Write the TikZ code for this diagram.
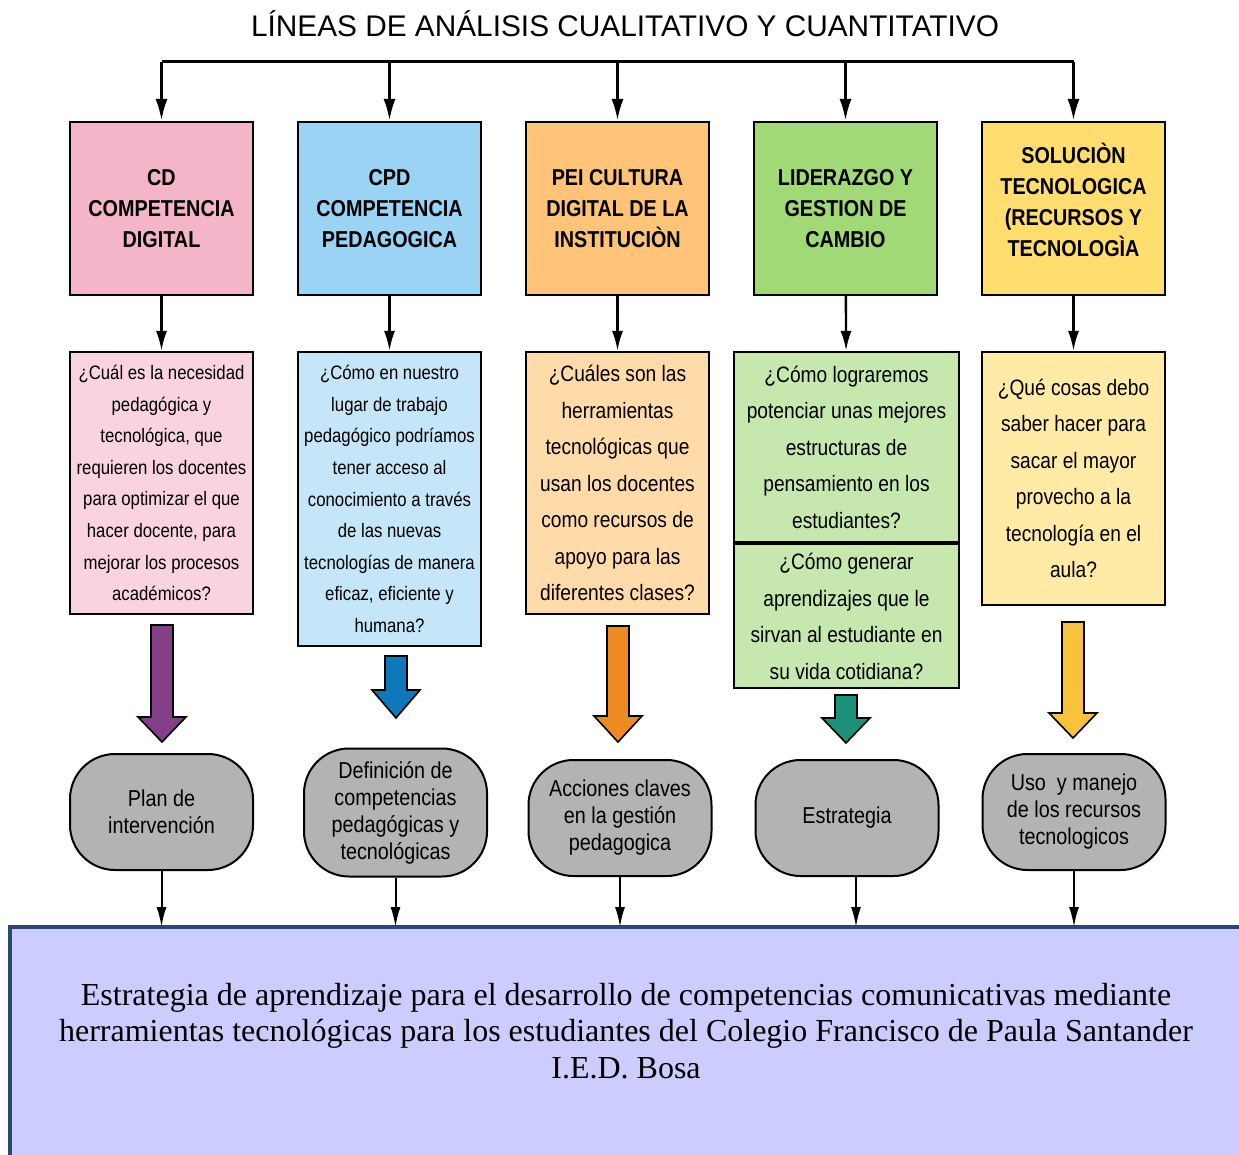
\documentclass[tikz,border=0pt]{standalone}
\usepackage{fontspec}
\setmainfont{Liberation Serif}
\setsansfont{Liberation Sans}
\newfontfamily\narrowsf{Liberation Sans}[FakeStretch=0.86]
\usepackage{xcolor}
\usetikzlibrary{arrows.meta,positioning,calc}

\definecolor{headpink}{HTML}{F4B5C8}
\definecolor{headblue}{HTML}{9AD3F3}
\definecolor{headorange}{HTML}{FFC478}
\definecolor{headgreen}{HTML}{A2D977}
\definecolor{headyellow}{HTML}{FFDE6F}
\definecolor{askpink}{HTML}{F9D3DF}
\definecolor{askblue}{HTML}{C4E6F8}
\definecolor{askorange}{HTML}{FFDBA9}
\definecolor{askgreen}{HTML}{C6E8AE}
\definecolor{askyellow}{HTML}{FFEBA6}
\definecolor{fatpurple}{HTML}{823F87}
\definecolor{fatblue}{HTML}{0F78BA}
\definecolor{fatorange}{HTML}{EE8A22}
\definecolor{fatteal}{HTML}{1B917A}
\definecolor{fatyellow}{HTML}{F8C23A}
\definecolor{resgray}{HTML}{B3B3B3}
\definecolor{goalfill}{HTML}{CCCCFF}
\definecolor{goalline}{HTML}{2C4A6E}

\tikzset{
  head/.style={draw=black, line width=2.2pt, minimum width=183pt, minimum height=173pt,
    inner sep=0pt, align=center, font=\narrowsf\bfseries\fontsize{23}{31}\selectfont},
  ask/.style={draw=black, line width=2.2pt, minimum width=183pt, inner sep=0pt,
    align=center, font=\narrowsf\fontsize{22.3}{36.5}\selectfont},
  asksmall/.style={ask, font=\narrowsf\fontsize{19.5}{31.6}\selectfont},
  res/.style={draw=black, line width=2pt, fill=resgray, rounded corners=45pt,
    minimum width=183pt, minimum height=116pt, inner sep=0pt, align=center,
    font=\narrowsf\fontsize{23}{27}\selectfont},
  fat/.style={draw=black, line width=1.6pt, line join=miter},
  bus/.style={line width=3pt},
  link/.style={line width=2.4pt, -{Latex[length=20pt,width=11pt]}},
  drop/.style={line width=2pt, -{Latex[length=20pt,width=10pt]}}
}

\begin{document}
\begin{tikzpicture}[x=1pt,y=-1pt]
\useasboundingbox (0,0) rectangle (1239,1155);
\clip (0,0) rectangle (1239,1155);

\node[font=\sffamily\fontsize{29.8}{29.8}\selectfont] (title) at (625,24)
{LÍNEAS DE ANÁLISIS CUALITATIVO Y CUANTITATIVO};
\coordinate (bus) at (618,62);

% line of headings
\node[head, fill=headpink] (head1) at (161.5,208.5) {CD\\COMPETENCIA\\DIGITAL};
\node[head, fill=headblue] (head2) at (389.5,208.5) {CPD\\COMPETENCIA\\PEDAGOGICA};
\node[head, fill=headorange] (head3) at (617.5,208.5) {PEI CULTURA\\DIGITAL DE LA\\INSTITUCIÒN};
\node[head, fill=headgreen] (head4) at (845.5,208.5) {LIDERAZGO Y\\GESTION DE\\CAMBIO};
\node[head, fill=headyellow, text depth=18pt] (head5) at (1073.5,208.5) {SOLUCIÒN\\TECNOLOGICA\\(RECURSOS Y\\TECNOLOGÌA};

\draw[bus] (head1.north |- bus) -- (head5.north |- bus);
\foreach \i in {1,...,5} {
\draw[bus,-{Latex[length=22pt,width=12pt]}] (head\i.north |- bus) -- (head\i.north);
}

% questions
\node[asksmall, fill=askpink, minimum height=262pt] (q1) at (161.5,483)
{¿Cuál es la necesidad\\pedagógica y\\tecnológica, que\\requieren los docentes\\para optimizar el que\\hacer docente, para\\mejorar los procesos\\académicos?};
\node[asksmall, fill=askblue, minimum height=294pt] (q2) at (389.5,499)
{¿Cómo en nuestro\\lugar de trabajo\\pedagógico podríamos\\tener acceso al\\conocimiento a través\\de las nuevas\\tecnologías de manera\\eficaz, eficiente y\\humana?};
\node[ask, fill=askorange, minimum height=262pt] (q3) at (617.5,483)
{¿Cuáles son las\\herramientas\\tecnológicas que\\usan los docentes\\como recursos de\\apoyo para las\\diferentes clases?};
\node[ask, fill=askgreen, minimum width=225pt, minimum height=190pt] (q4) at (846.5,447)
{¿Cómo lograremos\\potenciar unas mejores\\estructuras de\\pensamiento en los\\estudiantes?};
\node[ask, fill=askgreen, minimum width=225pt, minimum height=144pt, below=0pt of q4] (q4b)
{¿Cómo generar\\aprendizajes que le\\sirvan al estudiante en\\su vida cotidiana?};
\node[ask, fill=askyellow, minimum height=253pt] (q5) at (1073.5,478.5)
{¿Qué cosas debo\\saber hacer para\\sacar el mayor\\provecho a la\\tecnología en el\\aula?};

\foreach \i in {1,...,5} {
\draw[link] (head\i) -- (q\i);
}

% thick arrows
\foreach \x/\ya/\yb/\yc/\col in {162/625/717/742/fatpurple, 396/656/690/718/fatblue,
  618/626/716/742/fatorange, 846/695/718/743/fatteal, 1073/622/713/738/fatyellow} {
\draw[fat, fill=\col] (\x-11,\ya) -- (\x+11,\ya) -- (\x+11,\yb) -- (\x+24,\yb)
  -- (\x,\yc) -- (\x-24,\yb) -- (\x-11,\yb) -- cycle;
}

% results
\node[res] (res1) at (161.5,812) {Plan de\\intervención};
\node[res, minimum height=128pt] (res2) at (395.5,812.5) {Definición de\\competencias\\pedagógicas y\\tecnológicas};
\node[res] (res3) at (620,818) {Acciones claves\\en la gestión\\pedagogica};
\node[res] (res4) at (847,818) {Estrategia};
\node[res] (res5) at (1074,812) {Uso\ \ y manejo\\de los recursos\\tecnologicos};

% goal
\coordinate (goaltop) at (0,927);
\draw[line width=3.5pt, draw=goalline, fill=goalfill] (10,927) rectangle (1280,1200);
\node[align=center, font=\fontsize{32}{36.5}\selectfont] (goal) at (626,1031)
{Estrategia de aprendizaje para el desarrollo de competencias comunicativas mediante\\
herramientas tecnológicas para los estudiantes del Colegio Francisco de Paula Santander\\
I.E.D. Bosa};

\foreach \i in {1,2,3,5} {
\draw[drop] (res\i.south) -- (res\i.south |- goaltop);
}
\draw[drop] ([xshift=9pt]res4.south) -- ([xshift=9pt]res4.south |- goaltop);
\end{tikzpicture}
\end{document}
